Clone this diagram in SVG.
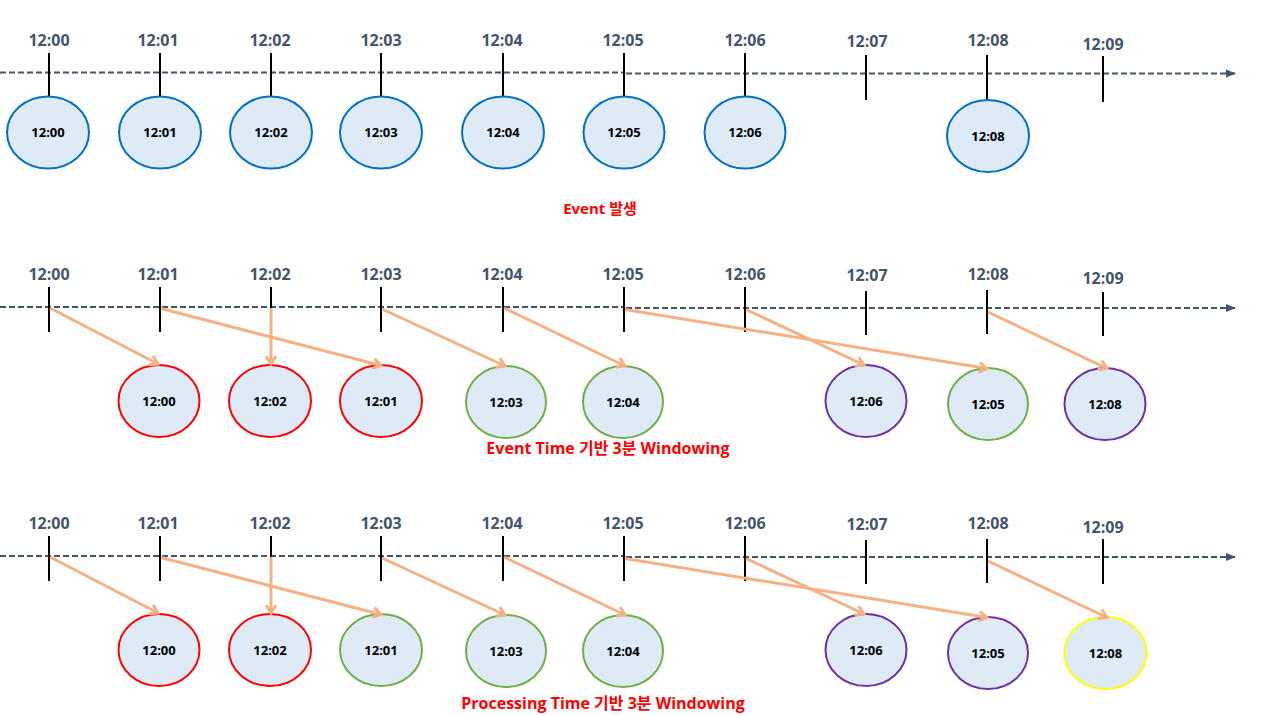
<svg xmlns="http://www.w3.org/2000/svg" width="1277" height="715" viewBox="0 0 1277 715">
<style>
.lbl{font-family:"Open Sans","Noto Sans CJK KR",sans-serif;font-weight:bold;font-size:16px;fill:#44546A;text-anchor:middle}
.ct{font-family:"Open Sans","Noto Sans CJK KR",sans-serif;font-weight:bold;font-size:13px;fill:#000;text-anchor:middle}
.ttl{font-family:"Open Sans","Noto Sans CJK KR",sans-serif;font-weight:bold;font-size:16px;fill:#FF0000;text-anchor:middle}
.tick{stroke:#000;stroke-width:2}
.axis{stroke:#44546A;stroke-width:2;stroke-dasharray:6 3;fill:none}
.arr{stroke:#F4B183;stroke-width:3;fill:none;marker-end:url(#oh)}
.c{fill:#DEEBF7;stroke-width:2}
.b{stroke:#0070C0}.r{stroke:#FF0000}.g{stroke:#70AD47}.p{stroke:#7030A0}.y{stroke:#FFFF00}
</style>
<defs>
<marker id="oh" markerUnits="userSpaceOnUse" viewBox="0 0 12 12" refX="10" refY="6" markerWidth="12" markerHeight="12" orient="auto">
<path d="M2,1 L10,6 L2,11" fill="none" stroke="#F4B183" stroke-width="3"/>
</marker>
<marker id="ah" markerUnits="userSpaceOnUse" viewBox="0 0 10 10" refX="9" refY="5" markerWidth="10" markerHeight="10" orient="auto">
<path d="M0,1 L10,5 L0,9 Z" fill="#44546A"/>
</marker>
</defs>

<!-- Section 1 -->
<g id="axis1">
<line class="axis" x1="0" y1="72.5" x2="624" y2="72.5"/>
<line class="axis" x1="626" y1="73.5" x2="1235" y2="73.5" marker-end="url(#ah)"/>
<line class="tick" x1="49" y1="53" x2="49" y2="96"/>
<line class="tick" x1="160" y1="53" x2="160" y2="96"/>
<line class="tick" x1="271" y1="53" x2="271" y2="96"/>
<line class="tick" x1="381" y1="53" x2="381" y2="96"/>
<line class="tick" x1="503" y1="53" x2="503" y2="96"/>
<line class="tick" x1="624" y1="53" x2="624" y2="96"/>
<line class="tick" x1="745" y1="53" x2="745" y2="96"/>
<line class="tick" x1="866" y1="55" x2="866" y2="100"/>
<line class="tick" x1="987" y1="55" x2="987" y2="99"/>
<line class="tick" x1="1103" y1="56" x2="1103" y2="102"/>
<text class="lbl" x="49" y="46">12:00</text>
<text class="lbl" x="158" y="46">12:01</text>
<text class="lbl" x="270" y="46">12:02</text>
<text class="lbl" x="381" y="46">12:03</text>
<text class="lbl" x="502" y="46">12:04</text>
<text class="lbl" x="623" y="46">12:05</text>
<text class="lbl" x="745" y="46">12:06</text>
<text class="lbl" x="867" y="47">12:07</text>
<text class="lbl" x="988" y="46">12:08</text>
<text class="lbl" x="1103" y="50">12:09</text>
</g>
<g id="s1n0"><ellipse class="c b" cx="48" cy="132.5" rx="41" ry="36"/><text class="ct" x="48" y="137">12:00</text></g>
<g id="s1n1"><ellipse class="c b" cx="160" cy="132.5" rx="41" ry="36"/><text class="ct" x="160" y="137">12:01</text></g>
<g id="s1n2"><ellipse class="c b" cx="271" cy="132.5" rx="41" ry="36"/><text class="ct" x="271" y="137">12:02</text></g>
<g id="s1n3"><ellipse class="c b" cx="381" cy="132.5" rx="41" ry="36"/><text class="ct" x="381" y="137">12:03</text></g>
<g id="s1n4"><ellipse class="c b" cx="503" cy="132.5" rx="41" ry="36"/><text class="ct" x="503" y="137">12:04</text></g>
<g id="s1n5"><ellipse class="c b" cx="624" cy="132.5" rx="40.5" ry="36"/><text class="ct" x="624" y="137">12:05</text></g>
<g id="s1n6"><ellipse class="c b" cx="745" cy="132.5" rx="40.5" ry="36"/><text class="ct" x="745" y="137">12:06</text></g>
<g id="s1n8"><ellipse class="c b" cx="988" cy="136" rx="41" ry="36"/><text class="ct" x="988" y="140.5">12:08</text></g>
<text class="ttl" x="600" y="214" style="font-size:15px">Event 발생</text>

<!-- Section 2 -->
<g id="axis2">
<line class="axis" x1="0" y1="307" x2="624" y2="307"/>
<line class="axis" x1="626" y1="308" x2="1235" y2="308" marker-end="url(#ah)"/>
<line class="tick" x1="49" y1="287" x2="49" y2="332"/>
<line class="tick" x1="160" y1="287" x2="160" y2="332"/>
<line class="tick" x1="271" y1="287" x2="271" y2="332"/>
<line class="tick" x1="381" y1="287" x2="381" y2="332"/>
<line class="tick" x1="503" y1="287" x2="503" y2="332"/>
<line class="tick" x1="624" y1="287" x2="624" y2="332"/>
<line class="tick" x1="745" y1="287" x2="745" y2="332"/>
<line class="tick" x1="866" y1="291" x2="866" y2="335"/>
<line class="tick" x1="987" y1="290" x2="987" y2="334"/>
<line class="tick" x1="1103" y1="292" x2="1103" y2="336"/>
<text class="lbl" x="49" y="280">12:00</text>
<text class="lbl" x="158" y="280">12:01</text>
<text class="lbl" x="270" y="280">12:02</text>
<text class="lbl" x="381" y="280">12:03</text>
<text class="lbl" x="502" y="280">12:04</text>
<text class="lbl" x="623" y="280">12:05</text>
<text class="lbl" x="745" y="280">12:06</text>
<text class="lbl" x="867" y="281">12:07</text>
<text class="lbl" x="988" y="280">12:08</text>
<text class="lbl" x="1103" y="284">12:09</text>
</g>
<g id="s2n0"><ellipse class="c r" cx="159" cy="401" rx="40.5" ry="36"/><text class="ct" x="159" y="405.5">12:00</text></g>
<g id="s2n2"><ellipse class="c r" cx="270" cy="401" rx="41" ry="36"/><text class="ct" x="270" y="405.5">12:02</text></g>
<g id="s2n1"><ellipse class="c r" cx="381" cy="401" rx="41" ry="36"/><text class="ct" x="381" y="405.5">12:01</text></g>
<g id="s2n3"><ellipse class="c g" cx="506" cy="402" rx="40" ry="36"/><text class="ct" x="506" y="406.5">12:03</text></g>
<g id="s2n4"><ellipse class="c g" cx="623" cy="402" rx="40" ry="36"/><text class="ct" x="623" y="406.5">12:04</text></g>
<g id="s2n6"><ellipse class="c p" cx="866" cy="401" rx="40.5" ry="36"/><text class="ct" x="866" y="405.5">12:06</text></g>
<g id="s2n5"><ellipse class="c g" cx="988" cy="404" rx="40" ry="36"/><text class="ct" x="988" y="408.5">12:05</text></g>
<g id="s2n8"><ellipse class="c p" cx="1105" cy="404" rx="40.5" ry="36"/><text class="ct" x="1105" y="408.5">12:08</text></g>
<g id="conn2">
<line class="arr" x1="50" y1="308" x2="158" y2="364"/>
<line class="arr" x1="161" y1="308.5" x2="381" y2="365.5"/>
<line class="arr" x1="271" y1="308" x2="271" y2="364"/>
<line class="arr" x1="382" y1="309" x2="505" y2="366"/>
<line class="arr" x1="504" y1="308" x2="625" y2="366"/>
<line class="arr" x1="625" y1="309.5" x2="987" y2="368.5"/>
<line class="arr" x1="746" y1="309.5" x2="864" y2="365"/>
<line class="arr" x1="988" y1="312" x2="1107" y2="368.5"/>
</g>
<text class="ttl" x="608" y="454">Event Time 기반 3분 Windowing</text>

<!-- Section 3 -->
<g id="axis3">
<line class="axis" x1="0" y1="556" x2="624" y2="556"/>
<line class="axis" x1="626" y1="557" x2="1235" y2="557" marker-end="url(#ah)"/>
<line class="tick" x1="49" y1="536" x2="49" y2="581"/>
<line class="tick" x1="160" y1="536" x2="160" y2="581"/>
<line class="tick" x1="271" y1="536" x2="271" y2="581"/>
<line class="tick" x1="381" y1="536" x2="381" y2="581"/>
<line class="tick" x1="503" y1="536" x2="503" y2="581"/>
<line class="tick" x1="624" y1="536" x2="624" y2="581"/>
<line class="tick" x1="745" y1="536" x2="745" y2="581"/>
<line class="tick" x1="866" y1="540" x2="866" y2="584"/>
<line class="tick" x1="987" y1="539" x2="987" y2="583"/>
<line class="tick" x1="1103" y1="539" x2="1103" y2="584"/>
<text class="lbl" x="49" y="529">12:00</text>
<text class="lbl" x="158" y="529">12:01</text>
<text class="lbl" x="270" y="529">12:02</text>
<text class="lbl" x="381" y="529">12:03</text>
<text class="lbl" x="502" y="529">12:04</text>
<text class="lbl" x="623" y="529">12:05</text>
<text class="lbl" x="745" y="529">12:06</text>
<text class="lbl" x="867" y="530">12:07</text>
<text class="lbl" x="988" y="529">12:08</text>
<text class="lbl" x="1103" y="533">12:09</text>
</g>
<g id="s3n0"><ellipse class="c r" cx="159" cy="650" rx="40.5" ry="36"/><text class="ct" x="159" y="654.5">12:00</text></g>
<g id="s3n2"><ellipse class="c r" cx="270" cy="650" rx="41" ry="36"/><text class="ct" x="270" y="654.5">12:02</text></g>
<g id="s3n1"><ellipse class="c g" cx="381" cy="650" rx="41" ry="36"/><text class="ct" x="381" y="654.5">12:01</text></g>
<g id="s3n3"><ellipse class="c g" cx="506" cy="651" rx="40" ry="36"/><text class="ct" x="506" y="655.5">12:03</text></g>
<g id="s3n4"><ellipse class="c g" cx="623" cy="651" rx="40" ry="36"/><text class="ct" x="623" y="655.5">12:04</text></g>
<g id="s3n6"><ellipse class="c p" cx="866" cy="650" rx="40.5" ry="36"/><text class="ct" x="866" y="654.5">12:06</text></g>
<g id="s3n5"><ellipse class="c p" cx="988" cy="653" rx="40" ry="36"/><text class="ct" x="988" y="657.5">12:05</text></g>
<g id="s3n8"><ellipse class="c y" cx="1105.5" cy="653" rx="41" ry="36"/><text class="ct" x="1105.5" y="657.5">12:08</text></g>
<g id="conn3">
<line class="arr" x1="50" y1="557" x2="158" y2="613"/>
<line class="arr" x1="161" y1="557.5" x2="381" y2="614.5"/>
<line class="arr" x1="271" y1="557" x2="271" y2="613"/>
<line class="arr" x1="382" y1="558" x2="505" y2="615"/>
<line class="arr" x1="504" y1="557" x2="625" y2="615"/>
<line class="arr" x1="625" y1="558.5" x2="987" y2="617.5"/>
<line class="arr" x1="746" y1="558.5" x2="864" y2="614"/>
<line class="arr" x1="988" y1="561" x2="1107" y2="617.5"/>
</g>
<text class="ttl" x="603" y="709">Processing Time 기반 3분 Windowing</text>
</svg>
